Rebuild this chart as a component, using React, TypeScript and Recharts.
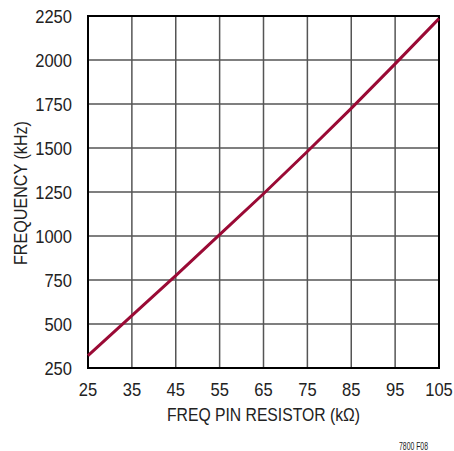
import React from "react";
import { LineChart, Line, XAxis, YAxis, CartesianGrid, ReferenceArea } from "recharts";

const resistorK = [25, 35, 45, 55, 65, 75, 85, 95, 105];
const frequencyKHz = [320, 548, 775, 1008, 1240, 1480, 1725, 1978, 2235];
const xTicks = [25, 35, 45, 55, 65, 75, 85, 95, 105];
const yTicks = [250, 500, 750, 1000, 1250, 1500, 1750, 2000, 2250];

const data = resistorK.map((r, i) => ({ r, f: frequencyKHz[i] }));

const FONT = "'Liberation Sans', Arial, sans-serif";
const TXT = "#222";

const XTick = (props: any) => {
  const { x, y, payload } = props;
  return (
    <g transform={`translate(${x},${y})`}>
      <text transform="scale(0.92,1)" textAnchor="middle" dy={20} fill={TXT} fontSize={18} fontFamily={FONT}>
        {payload.value}
      </text>
    </g>
  );
};

const YTick = (props: any) => {
  const { x, y, payload } = props;
  return (
    <g transform={`translate(${x},${y})`}>
      <text transform="scale(0.92,1)" textAnchor="end" dy={6.5} fill={TXT} fontSize={18} fontFamily={FONT}>
        {payload.value}
      </text>
    </g>
  );
};

const XLabel = () => (
  <text x={263.5} y={421} textAnchor="middle" fill={TXT} fontSize={18} fontFamily={FONT} textLength={193} lengthAdjust="spacingAndGlyphs">
    FREQ PIN RESISTOR (kΩ)
  </text>
);

const YLabel = () => (
  <text
    x={0}
    y={0}
    transform="translate(27,193) rotate(-90)"
    textAnchor="middle"
    fill={TXT}
    fontSize={18}
    fontFamily={FONT}
    textLength={144}
    lengthAdjust="spacingAndGlyphs"
  >
    FREQUENCY (kHz)
  </text>
);

export default function App() {
  return (
    <div style={{ position: "absolute", left: 0, top: 0, width: 454, height: 451, background: "#fff" }}>
      <LineChart width={454} height={451} data={data} margin={{ top: 16, right: 15, bottom: 0, left: 0 }}>
        <CartesianGrid stroke="#555" strokeWidth={1.5} />
        <XAxis
          dataKey="r"
          type="number"
          domain={[25, 105]}
          ticks={xTicks}
          height={83}
          tickLine={false}
          axisLine={false}
          tick={<XTick />}
          interval={0}
          label={{ content: () => <XLabel /> }}
        />
        <YAxis
          type="number"
          domain={[250, 2250]}
          ticks={yTicks}
          width={88}
          tickLine={false}
          axisLine={false}
          tick={<YTick />}
          tickMargin={10}
          interval={0}
          label={{ content: () => <YLabel /> }}
        />
        <ReferenceArea x1={25} x2={105} y1={250} y2={2250} fill="none" stroke="#000" strokeWidth={2} />
        <Line dataKey="f" stroke="#9a0a35" strokeWidth={3} dot={false} isAnimationActive={false} />
      </LineChart>
      <svg style={{ position: "absolute", left: 0, top: 0 }} width={454} height={451}>
        <text x={399} y={450} fill={TXT} fontSize={10} fontFamily={FONT} textLength={29} lengthAdjust="spacingAndGlyphs">
          7800 F08
        </text>
      </svg>
    </div>
  );
}
